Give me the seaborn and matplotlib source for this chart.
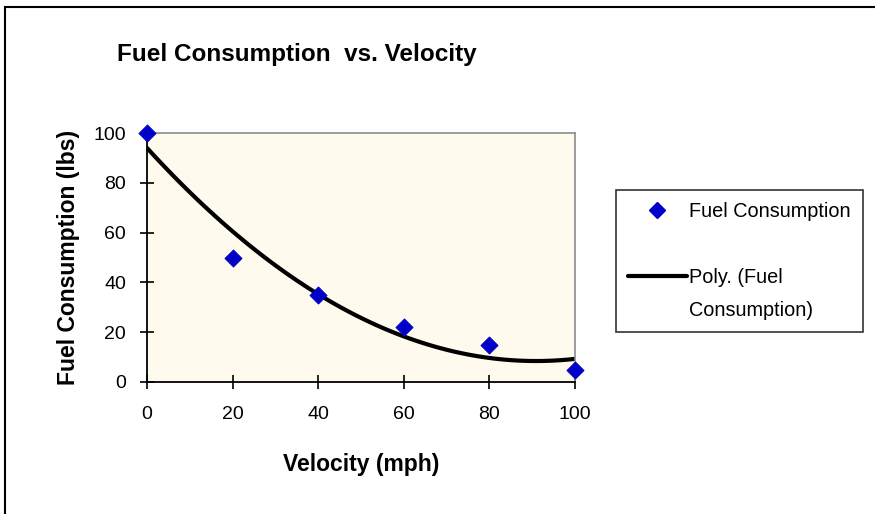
import matplotlib
matplotlib.use("Agg")
import matplotlib.pyplot as plt
import seaborn as sns
import pandas as pd
from matplotlib.lines import Line2D
from matplotlib.patches import Rectangle

velocity = [0, 20, 40, 60, 80, 100]
fuel = [100, 50, 35, 22, 15, 5]
x_ticks = [0, 20, 40, 60, 80, 100]
y_ticks = [0, 20, 40, 60, 80, 100]

df = pd.DataFrame({"Velocity": velocity, "Fuel": fuel})

sns.set_style("white")
plt.rcParams["font.family"] = ["Liberation Sans", "DejaVu Sans"]
plt.rcParams["text.color"] = "black"
plt.rcParams["axes.labelcolor"] = "black"
plt.rcParams["xtick.color"] = "black"
plt.rcParams["ytick.color"] = "black"

W, H = 875, 514
fig = plt.figure(figsize=(W / 100, H / 100), dpi=100)
ax = fig.add_axes([147 / W, (H - 382) / H, (575 - 147) / W, (382 - 133) / H])
ax.set_facecolor("#FFFAEE")

sns.regplot(data=df, x="Velocity", y="Fuel", order=2, ci=None, scatter=False,
            ax=ax, line_kws=dict(color="black", lw=3), truncate=True)
sns.scatterplot(data=df, x="Velocity", y="Fuel", ax=ax, marker="D", s=75,
                color="#0000C8", edgecolor="#0000C8", clip_on=False, zorder=5)

ax.set_xlim(0, 100)
ax.set_ylim(0, 100)
ax.set_xticks(x_ticks)
ax.set_yticks(y_ticks)
ax.tick_params(bottom=True, left=True, direction="inout", length=10, width=1.2,
               color="black", labelcolor="black", labelsize=14)
ax.tick_params(axis="x", pad=12)
ax.tick_params(axis="y", pad=10)
for s in ["left", "bottom"]:
    ax.spines[s].set_color("black")
    ax.spines[s].set_linewidth(1.3)
for s in ["top", "right"]:
    ax.spines[s].set_color("#8c8c8c")
    ax.spines[s].set_linewidth(1.2)

ax.set_xlabel("Velocity (mph)", fontsize=16.5, fontweight="bold", labelpad=22)
ax.set_ylabel("Fuel Consumption (lbs)", fontsize=16.5, fontweight="bold", labelpad=10)

fig.text(117 / W, 1 - 55 / H, "Fuel Consumption  vs. Velocity", fontsize=17.5,
         fontweight="bold", ha="left", va="center")

handles = [
    Line2D([], [], marker="D", color="#0000C8", linestyle="none", markersize=8),
    Line2D([], [], linestyle="none"),
    Line2D([], [], color="black", lw=3),
    Line2D([], [], linestyle="none"),
]
labels = ["Fuel Consumption", " ", "Poly. (Fuel", "Consumption)"]
leg = fig.legend(handles, labels, loc="upper left",
                 bbox_to_anchor=(616 / W, 1 - 190 / H), fontsize=14.3,
                 frameon=True, fancybox=False, edgecolor="black",
                 handlelength=2.95, handletextpad=0.15, labelspacing=0.7,
                 borderpad=0.6, borderaxespad=0)
leg.get_frame().set_linewidth(1.2)

fig.patches.append(Rectangle((5 / W, -0.1), 1.2, 1 - 7 / H + 0.1,
                             transform=fig.transFigure, fill=False,
                             edgecolor="black", lw=1.5))

fig.savefig("out.png", dpi=100)
